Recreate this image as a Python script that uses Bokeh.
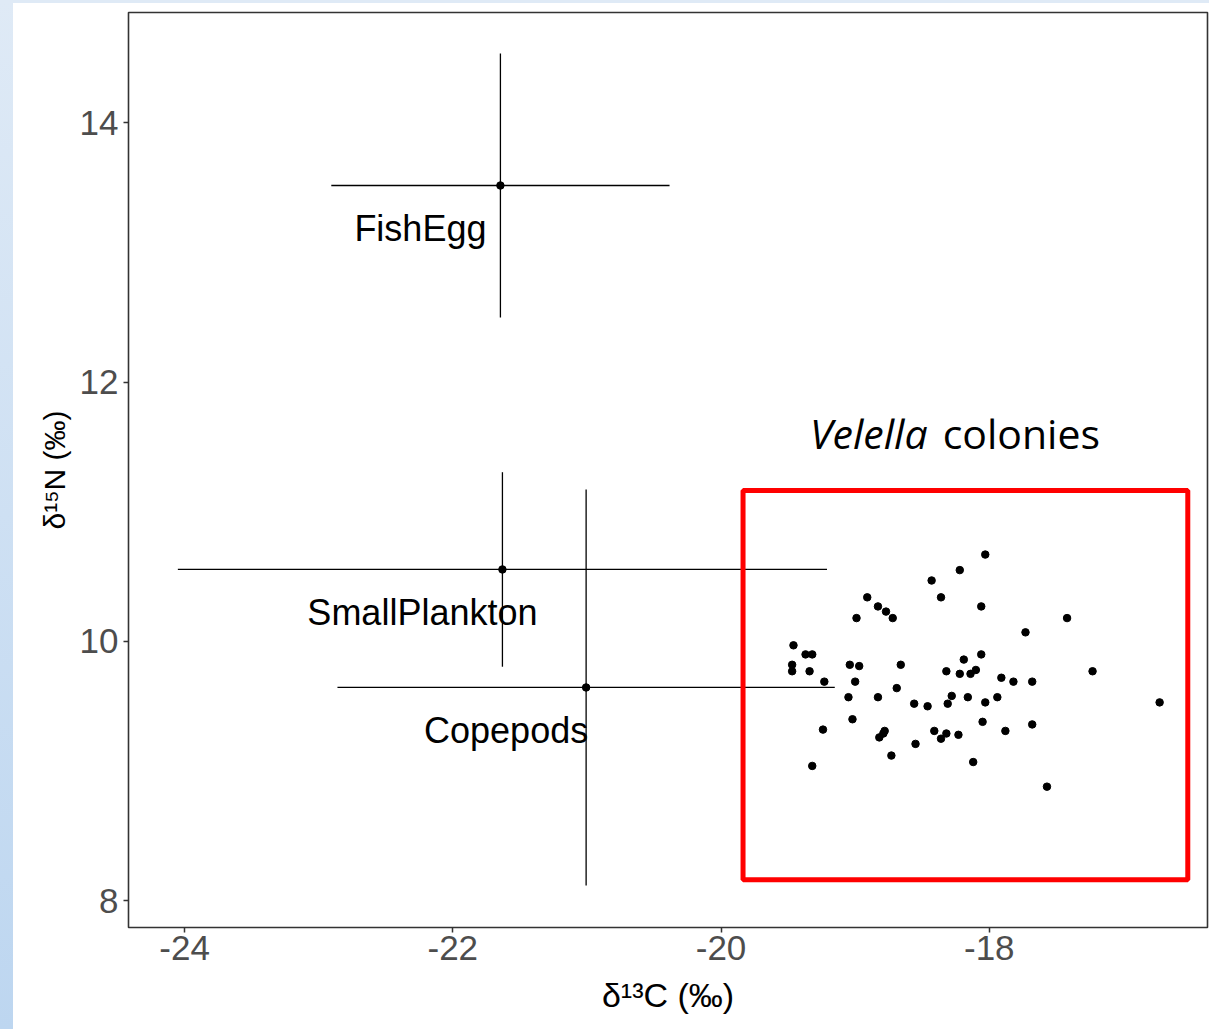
from bokeh.plotting import figure
from bokeh.models import BoxAnnotation, FixedTicker, Range1d, ColumnDataSource
from bokeh.core.properties import value
from bokeh.embed import file_html
from bokeh.resources import INLINE

# ---- data ----
groups = ["FishEgg", "SmallPlankton", "Copepods"]
mean_c = [-21.645, -21.63, -21.006]
sd_c = [1.261, 2.42, 1.854]
mean_n = [13.516, 10.555, 9.645]
sd_n = [1.018, 0.75, 1.527]

vel_c = [-18.03, -18.22, -18.43, -18.36, -18.06, -18.91, -18.83, -18.77, -18.72, -18.99,
         -17.42, -17.73, -19.46, -19.37, -19.32, -19.47, -19.47, -19.34, -19.04, -18.97,
         -18.66, -18.19, -18.06, -18.32, -18.22, -18.14, -18.10, -17.23, -17.91, -17.82,
         -17.68, -19.23, -19.00, -18.69, -19.05, -18.83, -18.28, -18.16, -18.31, -18.56,
         -18.46, -18.03, -17.94, -16.73, -18.05, -17.68, -19.02, -19.24, -18.78, -18.82,
         -18.79, -18.41, -18.32, -18.36, -18.23, -17.88, -18.55, -18.73, -18.12, -19.32,
         -17.57]
vel_n = [10.67, 10.55, 10.47, 10.34, 10.27, 10.34, 10.27, 10.23, 10.18, 10.18,
         10.18, 10.07, 9.97, 9.90, 9.90, 9.82, 9.77, 9.77, 9.82, 9.81,
         9.82, 9.86, 9.90, 9.77, 9.75, 9.75, 9.78, 9.77, 9.72, 9.69,
         9.69, 9.69, 9.69, 9.64, 9.57, 9.57, 9.58, 9.57, 9.52, 9.52,
         9.50, 9.53, 9.57, 9.53, 9.38, 9.36, 9.40, 9.32, 9.31, 9.26,
         9.29, 9.31, 9.29, 9.25, 9.28, 9.31, 9.21, 9.12, 9.07, 9.04,
         8.88]

x_ticks = [-24, -22, -20, -18]
y_ticks = [8, 10, 12, 14]
x_title = "δ¹³C (‰)"
y_title = "δ¹⁵N (‰)"

# highlight box (data coords)
box_left, box_right, box_bottom, box_top = -19.836, -16.52, 8.163, 11.164
vel_label_x, vel_label_y = -18.4, 11.61

# ---- figure ----
X0, X1, Y0, Y1 = -24.418, -16.373, 7.794, 14.85
p = figure(width=1209, height=1029, output_backend="svg", toolbar_location=None,
           x_range=Range1d(X0, X1), y_range=Range1d(Y0, Y1),
           min_border_left=128, min_border_top=12, min_border_right=2, min_border_bottom=102)
p.background_fill_color = "white"
p.border_fill_color = None
# slide background: pale blue strips at the top and left edges
p.styles = {
    "background": ("linear-gradient(#dfeaf6, #dfeaf6) left top / 100% 3px no-repeat, "
                   "linear-gradient(to bottom, #dfeaf6, #bdd6f0) left top / 13px 100% no-repeat, "
                   "#ffffff"),
}
p.outline_line_color = "#333333"
p.outline_line_width = 1.6
p.grid.visible = False

for ax in (p.xaxis, p.yaxis):
    ax.axis_line_color = None
    ax.major_tick_line_color = "#333333"
    ax.major_tick_line_width = 1.5
    ax.major_tick_in = 0
    ax.major_tick_out = 5
    ax.minor_tick_line_color = None
    ax.major_label_text_font = "Liberation Sans"
    ax.major_label_text_font_size = "35px"
    ax.major_label_text_color = "#4D4D4D"
    ax.axis_label_text_font = "Liberation Sans"
    ax.axis_label_text_font_style = "normal"
    ax.axis_label_text_color = "black"

p.xaxis.ticker = FixedTicker(ticks=x_ticks)
p.yaxis.ticker = FixedTicker(ticks=y_ticks)
p.xaxis.major_label_overrides = {t: str(t) for t in x_ticks}
p.yaxis.major_label_overrides = {t: str(t) for t in y_ticks}
p.xaxis.major_label_standoff = 3
p.yaxis.major_label_standoff = 5
p.xaxis.axis_label = x_title
p.yaxis.axis_label = y_title
p.xaxis.axis_label_text_font_size = "34px"
p.yaxis.axis_label_text_font_size = "30px"
p.xaxis.axis_label_standoff = 13
p.yaxis.axis_label_standoff = 6

src = ColumnDataSource(dict(
    c=mean_c, n=mean_n, name=groups,
    c0=[m - s for m, s in zip(mean_c, sd_c)], c1=[m + s for m, s in zip(mean_c, sd_c)],
    n0=[m - s for m, s in zip(mean_n, sd_n)], n1=[m + s for m, s in zip(mean_n, sd_n)],
))

p.segment(x0="c0", x1="c1", y0="n", y1="n", source=src, line_color="black", line_width=1.3)
p.segment(x0="c", x1="c", y0="n0", y1="n1", source=src, line_color="black", line_width=1.3)
p.scatter(x="c", y="n", source=src, size=7.5, color="black")
p.text(x="c", y="n", text="name", source=src, x_offset=-80, y_offset=43,
       text_align="center", text_baseline="alphabetic",
       text_font=value("Liberation Sans"), text_font_size="36px", text_color="black")

p.scatter(vel_c, vel_n, size=7.5, color="black")

p.add_layout(BoxAnnotation(left=box_left, right=box_right, bottom=box_bottom, top=box_top,
                           fill_color=None, fill_alpha=0, line_color="#FF0000",
                           line_alpha=1.0, line_width=5))

p.text(x=[vel_label_x], y=[vel_label_y], text=["Velella"], x_offset=-8,
       text_align="right", text_baseline="alphabetic",
       text_font=value("Open Sans"), text_font_style="italic",
       text_font_size="41px", text_color="black")
p.text(x=[vel_label_x], y=[vel_label_y], text=["colonies"], x_offset=7,
       text_align="left", text_baseline="alphabetic",
       text_font=value("Open Sans"), text_font_size="41px", text_color="black")

open("out.html", "w").write(file_html(p, INLINE))
